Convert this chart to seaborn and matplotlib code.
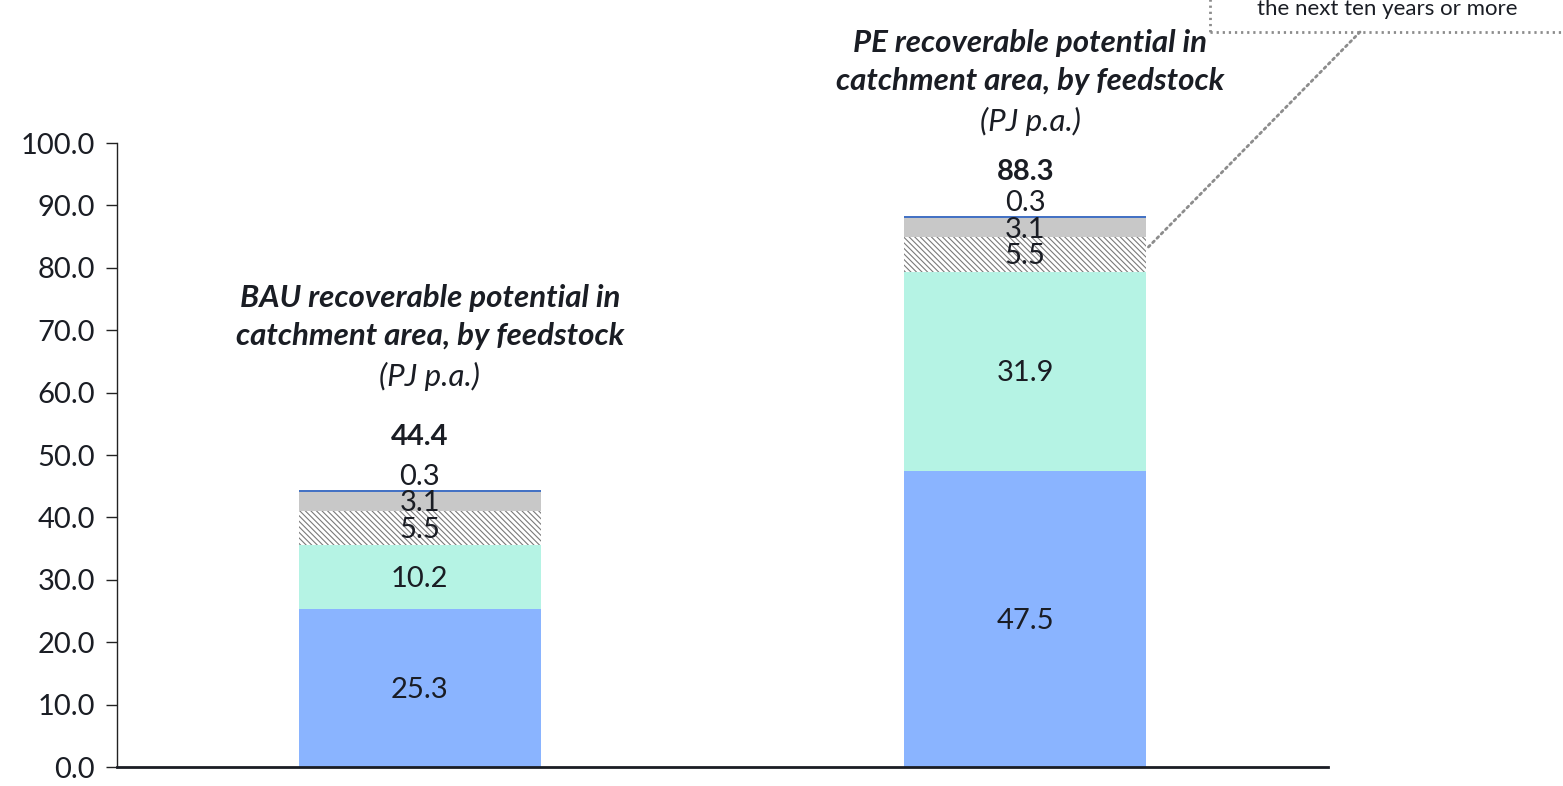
import matplotlib
matplotlib.use("Agg")
import matplotlib.pyplot as plt
import seaborn as sns
import pandas as pd
import numpy as np
from matplotlib.patches import Rectangle

# Scenarios and feedstock segments (PJ p.a.), bottom to top
scenarios = ["BAU", "PE"]
seg_1 = [25.3, 47.5]
seg_2 = [10.2, 31.9]
seg_3 = [5.5, 5.5]
seg_4 = [3.1, 3.1]
seg_5 = [0.3, 0.3]
totals = [44.4, 88.3]

titles = [
    "BAU recoverable potential in\ncatchment area, by feedstock",
    "PE recoverable potential in\ncatchment area, by feedstock",
]
subtitle = "(PJ p.a.)"
callout_text = "the next ten years or more"
y_ticks = [0, 10, 20, 30, 40, 50, 60, 70, 80, 90, 100]

segments = [seg_1, seg_2, seg_3, seg_4, seg_5]
colors = ["#8AB4FF", "#B5F3E4", "white", "#C8C8C8", "#4472C4"]
hatches = [None, None, "\\\\\\\\\\\\", None, None]

sns.set_theme(style="white")
plt.rcParams["font.family"] = ["Lato", "DejaVu Sans"]
plt.rcParams["hatch.color"] = "#7a7a7a"
plt.rcParams["hatch.linewidth"] = 0.8
text_color = "#1a1d24"
num_size = 21
title_size = 22.5

W, H = 1563, 786
fig = plt.figure(figsize=(W / 100, H / 100), dpi=100)
ax = fig.add_axes([117 / W, 19 / H, (1328 - 117) / W, (767 - 143) / H])

# Stacked bars drawn as cumulative heights, tallest first
cum = np.cumsum(np.array(segments), axis=0)
for i in range(len(segments) - 1, -1, -1):
    df = pd.DataFrame({"scenario": scenarios, "value": cum[i]})
    sns.barplot(data=df, x="scenario", y="value", color=colors[i],
                width=0.4, saturation=1, ax=ax, linewidth=0,
                hatch=hatches[i], edgecolor="#7a7a7a" if hatches[i] else colors[i])

ax.set_xlim(-0.5, 1.5)
ax.set_ylim(0, 100)
ax.set_yticks(y_ticks)
ax.set_yticklabels([f"{v:.1f}" for v in y_ticks], fontsize=num_size, color=text_color)
ax.set_xticks([])
ax.set_xlabel("")
ax.set_ylabel("")
for s in ["top", "right"]:
    ax.spines[s].set_visible(False)
ax.spines["left"].set_color("#222222")
ax.spines["left"].set_linewidth(1.0)
ax.spines["bottom"].set_color("#1a1d24")
ax.spines["bottom"].set_linewidth(2.0)
ax.tick_params(axis="y", direction="out", length=8, width=1, color="#222222", pad=8, left=True)

# Segment labels
for j in range(len(scenarios)):
    lower = 0.0
    for i, seg in enumerate(segments[:4]):
        v = seg[j]
        ax.annotate(f"{v:.1f}", xy=(j, lower + v / 2), xytext=(0, -2),
                    textcoords="offset pixels", ha="center", va="center",
                    fontsize=num_size, color=text_color)
        lower += v
    # thin top segment labelled above the bar
    ax.annotate(f"{segments[4][j]:.1f}", xy=(j, totals[j]), xytext=(0, 13),
                textcoords="offset pixels", ha="center", va="center",
                fontsize=num_size, color=text_color)

total_offsets = [53, 44]
for j in range(len(scenarios)):
    ax.annotate(f"{totals[j]:.1f}", xy=(j, totals[j]), xytext=(0, total_offsets[j]),
                textcoords="offset pixels", ha="center", va="center",
                fontsize=num_size, fontweight="bold", color=text_color)

# Block titles
fig.text(430 / W, 1 - 317 / H, titles[0], ha="center", va="center", fontsize=title_size,
         fontweight="bold", fontstyle="italic", color=text_color, linespacing=1.4)
fig.text(430 / W, 1 - 376 / H, subtitle, ha="center", va="center", fontsize=title_size,
         fontstyle="italic", color=text_color)
fig.text(1030 / W, 1 - 62 / H, titles[1], ha="center", va="center", fontsize=title_size,
         fontweight="bold", fontstyle="italic", color=text_color, linespacing=1.4)
fig.text(1030 / W, 1 - 121 / H, subtitle, ha="center", va="center", fontsize=title_size,
         fontstyle="italic", color=text_color)

# Callout box and leader line
dots = (0, (0.8, 1.4))
box = Rectangle((1210 / W, 1 - 32 / H), (W - 1210 + 20) / W, 60 / H,
                transform=fig.transFigure, fill=False, edgecolor="#8c8c8c",
                linestyle=dots, linewidth=2, clip_on=False)
fig.add_artist(box)
fig.text(1387 / W, 1 - 9 / H, callout_text, ha="center", va="center",
         fontsize=16, color=text_color)
ax.annotate("", xy=(1.2, 83.0), xycoords="data",
            xytext=(1360 / W, 1 - 32 / H), textcoords="figure fraction",
            arrowprops=dict(arrowstyle="-", color="#8c8c8c", linewidth=2,
                            linestyle=dots, shrinkA=0, shrinkB=0),
            annotation_clip=False)

fig.savefig("out.png", dpi=100)
